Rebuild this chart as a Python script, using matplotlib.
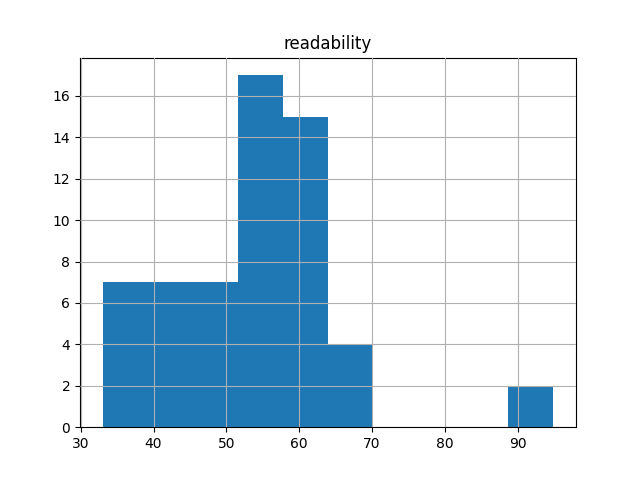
import numpy as np
import matplotlib
matplotlib.use("Agg")
import matplotlib.pyplot as plt

# histogram of readability scores (10 bins)
bin_min, bin_max = 33.0, 94.9
counts = [7, 7, 7, 17, 15, 4, 0, 0, 0, 2]
edges = np.linspace(bin_min, bin_max, len(counts) + 1)

fig, ax = plt.subplots(figsize=(6.4, 4.8), dpi=100)
ax.hist(edges[:-1], bins=edges, weights=counts, color='#1f77b4')
ax.set_title('readability')
ax.grid(True)
ax.set_axisbelow(False)

fig.savefig('out.png')
